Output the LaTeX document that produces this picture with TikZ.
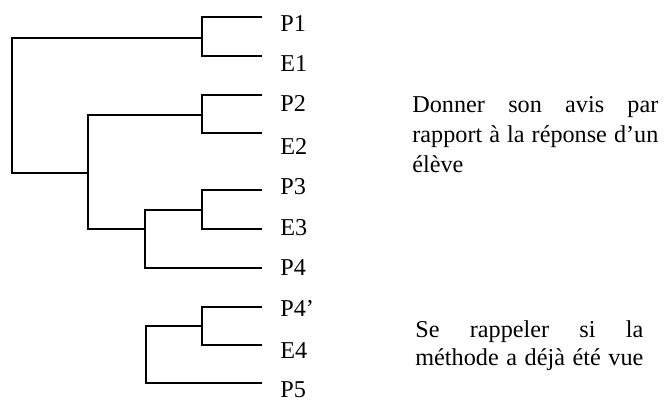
\documentclass[tikz,border=0pt]{standalone}
\usepackage{fontspec}
\setmainfont{Liberation Serif}

\begin{document}
\begin{tikzpicture}[
x=0.5pt, y=-0.5pt,
branch/.style={line width=1pt, line cap=rect},
lbl/.style={anchor=west, inner sep=0pt, font=\fontsize{12.1}{15}\selectfont},
note/.style={anchor=base west, inner sep=0pt, align=left, font=\fontsize{12.1}{15}\selectfont}
]
\useasboundingbox (0,0) rectangle (665,403);

% leaf tips
\coordinate (tP1) at (261,17);
\coordinate (tE1) at (261,56);
\coordinate (tP2) at (261,95);
\coordinate (tE2) at (261,133);
\coordinate (tP3) at (261,190);
\coordinate (tE3) at (261,229);
\coordinate (tP4) at (261,268);
\coordinate (tP4p) at (261,307);
\coordinate (tE4) at (261,345);
\coordinate (tP5) at (261,383);

% joins
\coordinate (root) at (12,105);
\coordinate (j1) at (202,38);
\coordinate (j2) at (202,115);
\coordinate (j23) at (88,173);
\coordinate (j3) at (202,210);
\coordinate (j34) at (145,229);
\coordinate (j4) at (202,326);
\coordinate (j45) at (146,354);

\draw[branch] (tP1) -| (j1) |- (tE1);
\draw[branch] (j1) -| (root) |- (j23);
\draw[branch] (tP2) -| (j2) |- (tE2);
\draw[branch] (j2) -| (j23) |- (j34);
\draw[branch] (tP3) -| (j3) |- (tE3);
\draw[branch] (j3) -| (j34) |- (tP4);
\draw[branch] (tP4p) -| (j4) |- (tE4);
\draw[branch] (j4) -| (j45) |- (tP5);

% labels
\node[lbl] (P1) at (280,24) {P1};
\node[lbl] (E1) at (280,64) {E1};
\node[lbl] (P2) at (280,103) {P2};
\node[lbl] (E2) at (280,146) {E2};
\node[lbl] (P3) at (280,187) {P3};
\node[lbl] (E3) at (280,228) {E3};
\node[lbl] (P4) at (280,268) {P4};
\node[lbl] (P4p) at (280,308) {P4’};
\node[lbl] (E4) at (280,351) {E4};
\node[lbl] (P5) at (280,390) {P5};

% comments on the groups
\node[note, text width=123pt] (avis) at (412,112)
  {\spaceskip=0pt\xspaceskip=0pt
   \makebox[123pt][s]{Donner son avis par}\\
   \makebox[123pt][s]{rapport à la réponse d’un}\\
   élève};
\node[note, text width=114pt, font=\fontsize{12.1}{14}\selectfont] (methode) at (415,337)
  {\spaceskip=0pt\xspaceskip=0pt
   \makebox[114pt][s]{Se rappeler si la}\\
   \makebox[114pt][s]{méthode a déjà été vue}};
\end{tikzpicture}
\end{document}
